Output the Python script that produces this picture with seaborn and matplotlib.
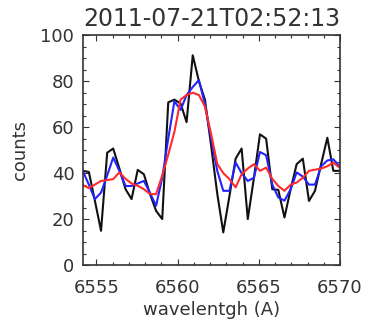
import numpy as np
import pandas as pd
import matplotlib
matplotlib.use("Agg")
import matplotlib.pyplot as plt
import seaborn as sns

# wavelength grid (Angstrom)
wavelength = [6554.15, 6554.53, 6554.90, 6555.28, 6555.66, 6556.03, 6556.41, 6556.79,
              6557.16, 6557.54, 6557.92, 6558.29, 6558.67, 6559.05, 6559.42, 6559.80,
              6560.18, 6560.55, 6560.93, 6561.31, 6561.68, 6562.06, 6562.44, 6562.81,
              6563.19, 6563.57, 6563.94, 6564.32, 6564.70, 6565.07, 6565.45, 6565.83,
              6566.20, 6566.58, 6566.96, 6567.33, 6567.71, 6568.09, 6568.46, 6568.84,
              6569.22, 6569.59, 6569.97]

raw_counts = [41.0, 40.5, 28.0, 14.9, 48.9, 50.7, 42.0, 33.0,
              28.7, 41.4, 39.5, 31.0, 23.6, 20.0, 70.8, 72.0,
              70.3, 62.2, 91.3, 80.0, 72.0, 52.0, 31.0, 14.2,
              30.0, 46.3, 50.7, 20.0, 38.0, 56.9, 55.0, 33.0,
              32.7, 20.7, 33.0, 43.9, 46.3, 27.9, 32.3, 44.0,
              55.4, 41.0, 41.0]

smooth_counts = [41.0, 35.0, 28.7, 31.5, 39.0, 46.8, 41.0, 34.4,
                 34.4, 35.5, 36.6, 31.5, 25.8, 38.0, 55.0, 71.3,
                 67.5, 74.0, 77.5, 80.5, 70.0, 55.0, 41.0, 32.3,
                 32.3, 44.6, 40.0, 36.6, 38.0, 49.2, 47.8, 35.0,
                 29.4, 28.0, 33.0, 40.3, 38.5, 35.0, 35.0, 43.0,
                 45.5, 46.0, 43.0]

wide_smooth_counts = [34.8, 33.5, 35.0, 36.6, 37.0, 37.4, 40.3, 37.5,
                      35.5, 34.5, 33.0, 31.0, 30.8, 39.0, 48.0, 58.0,
                      72.0, 74.0, 75.0, 74.0, 69.0, 57.0, 44.0, 40.0,
                      37.4, 33.8, 39.5, 42.0, 43.9, 41.0, 42.4, 37.5,
                      34.4, 32.3, 35.0, 35.9, 38.0, 41.0, 41.5, 42.0,
                      43.0, 44.6, 42.4]

title_text = "2011-07-21T02:52:13"
x_label = "wavelentgh (A)"
y_label = "counts"
x_ticks = [6555, 6560, 6565, 6570]
y_ticks = [0, 20, 40, 60, 80, 100]

sns.set_style("ticks")
plt.rcParams['font.family'] = ['DejaVu Sans']

df = pd.DataFrame({"wl": wavelength, "raw": raw_counts,
                   "s1": smooth_counts, "s2": wide_smooth_counts})

fig = plt.figure(figsize=(3.73, 3.26), dpi=100)
ax = fig.add_axes([0.2217, 0.1871, 0.6898, 0.7046])

sns.lineplot(data=df, x="wl", y="raw", ax=ax, color="#111111", lw=1.5, sort=False)
sns.lineplot(data=df, x="wl", y="s1", ax=ax, color="#2222ff", lw=1.5, sort=False)
sns.lineplot(data=df, x="wl", y="s2", ax=ax, color="#ff2a2a", lw=1.5, sort=False)

ax.set_xlim(6554.15, 6569.97)
ax.set_ylim(0, 100)
ax.set_xticks(x_ticks)
ax.set_yticks(y_ticks)
ax.set_xticks(np.arange(6555, 6570, 1), minor=True)
ax.set_yticks(np.arange(0, 100, 5), minor=True)

txt_color = "#333333"
ax.tick_params(which="both", direction="in", top=True, right=True,
               color="#333333", width=0.8, labelsize=13, labelcolor=txt_color)
ax.tick_params(which="major", length=4.5)
ax.tick_params(which="minor", length=2.5)
ax.tick_params(axis="x", which="major", pad=10)
ax.tick_params(axis="y", which="major", pad=6)
for s in ax.spines.values():
    s.set_color("#333333")
    s.set_linewidth(1.2)

ax.set_title(title_text, fontsize=17, color=txt_color, pad=7)
ax.set_xlabel(x_label, fontsize=13, color=txt_color, labelpad=3)
ax.set_ylabel(y_label, fontsize=13, color=txt_color, labelpad=8)

fig.savefig("out.png", dpi=100)
